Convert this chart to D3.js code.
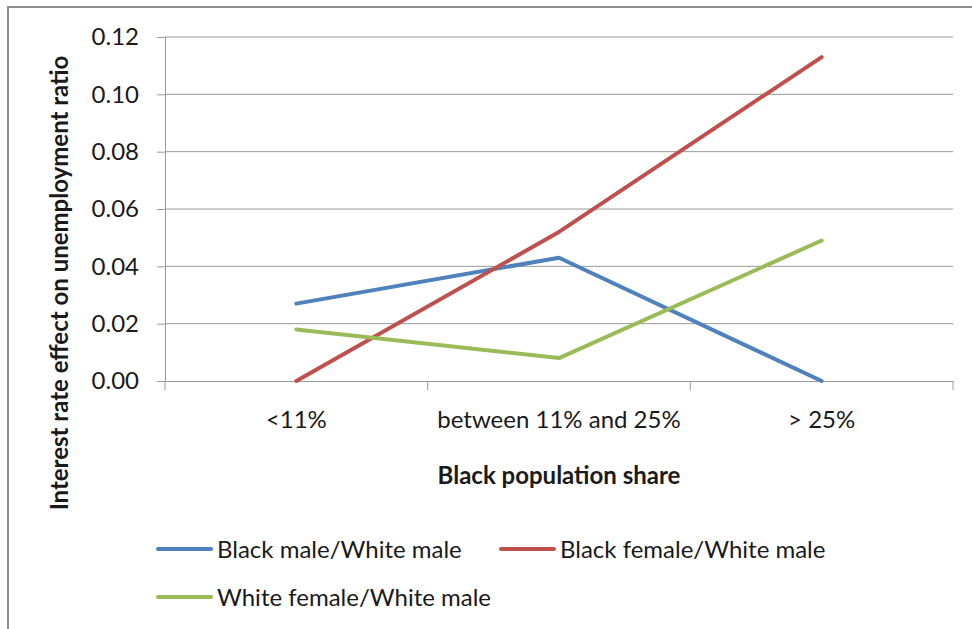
<!DOCTYPE html>
<html>
<head>
<meta charset="utf-8">
<script src="https://cdn.jsdelivr.net/npm/d3@7"></script>
<style>
  body { margin: 0; background: #fff; }
  svg text { font-family: Lato, "Open Sans", sans-serif; fill: #1a1a1a; }
</style>
</head>
<body>
<svg class="chart"></svg>
<script>
// data
var categories = ['<11%', 'between 11% and 25%', '> 25%'];
var blackMale = [0.027, 0.043, 0.000];
var blackFemale = [0.000, 0.052, 0.113];
var whiteFemale = [0.018, 0.008, 0.049];
var seriesNames = ['Black male/White male', 'Black female/White male', 'White female/White male'];
var yTicks = [0, 0.02, 0.04, 0.06, 0.08, 0.10, 0.12];

var series = [
  { name: seriesNames[0], values: blackMale, color: '#4f81bd' },
  { name: seriesNames[1], values: blackFemale, color: '#c0504d' },
  { name: seriesNames[2], values: whiteFemale, color: '#9bbb59' }
];

var svg = d3.select('.chart')
  .attr('width', 972)
  .attr('height', 629);

// outer frame
svg.append('rect')
  .attr('x', 8).attr('y', 7)
  .attr('width', 975).attr('height', 640)
  .attr('fill', 'none')
  .attr('stroke', '#8c8c8c')
  .attr('stroke-width', 2);

var plotLeft = 165, plotRight = 953, plotTop = 37, plotBottom = 381;

var xScale = d3.scaleBand()
  .domain(categories)
  .range([plotLeft, plotRight]);

var yScale = d3.scaleLinear()
  .domain([0, 0.12])
  .range([plotBottom, plotTop]);

// gridlines
svg.append('g')
  .selectAll('line')
  .data(yTicks.slice(1))
  .join('line')
  .attr('x1', plotLeft).attr('x2', plotRight)
  .attr('y1', d => yScale(d)).attr('y2', d => yScale(d))
  .attr('stroke', '#9a9a9a')
  .attr('stroke-width', 1);

var yAxis = d3.axisLeft(yScale)
  .tickValues(yTicks)
  .tickFormat(d3.format('.2f'))
  .tickSize(8)
  .tickPadding(18);

svg.append('g')
  .attr('class', 'y-axis')
  .attr('transform', 'translate(' + plotLeft + ',0)')
  .call(yAxis)
  .call(g => g.selectAll('text').style('font-size', '24px'));

var xAxis = d3.axisBottom(xScale)
  .tickSize(0)
  .tickPadding(30);

var xg = svg.append('g')
  .attr('class', 'x-axis')
  .attr('transform', 'translate(0,' + plotBottom + ')')
  .call(xAxis);
xg.selectAll('text').style('font-size', '24px');

// category boundary ticks
xg.selectAll('.bound')
  .data([xScale.range()[0]].concat(categories.map(c => xScale(c) + xScale.bandwidth())))
  .join('line')
  .attr('class', 'bound')
  .attr('x1', d => d).attr('x2', d => d)
  .attr('y1', 0).attr('y2', 9)
  .attr('stroke', '#9a9a9a');

svg.selectAll('.domain, .tick line').attr('stroke', '#9a9a9a');

// lines
var line = d3.line()
  .x((d, i) => xScale(categories[i]) + xScale.bandwidth() / 2)
  .y(d => yScale(d));

svg.append('g')
  .selectAll('path')
  .data(series)
  .join('path')
  .attr('d', d => line(d.values))
  .attr('fill', 'none')
  .attr('stroke', d => d.color)
  .attr('stroke-width', 4)
  .attr('stroke-linecap', 'round')
  .attr('stroke-linejoin', 'round');

// axis titles
svg.append('text')
  .attr('x', 559).attr('y', 484)
  .attr('text-anchor', 'middle')
  .style('font-size', '24px')
  .style('font-weight', 'bold')
  .text('Black population share');

svg.append('text')
  .attr('transform', 'translate(68,283) rotate(-90)')
  .attr('text-anchor', 'middle')
  .style('font-size', '24px')
  .style('font-weight', 'bold')
  .text('Interest rate effect on unemployment ratio');

// legend
var legendPos = [[158, 549], [501, 549], [158, 597]];
var legend = svg.append('g')
  .selectAll('g')
  .data(series)
  .join('g')
  .attr('transform', (d, i) => 'translate(' + legendPos[i][0] + ',' + legendPos[i][1] + ')');

legend.append('line')
  .attr('x1', 0).attr('x2', 53)
  .attr('stroke', d => d.color)
  .attr('stroke-width', 4)
  .attr('stroke-linecap', 'round');

legend.append('text')
  .attr('x', 59).attr('y', 9)
  .style('font-size', '24px')
  .text(d => d.name);
</script>
</body>
</html>
